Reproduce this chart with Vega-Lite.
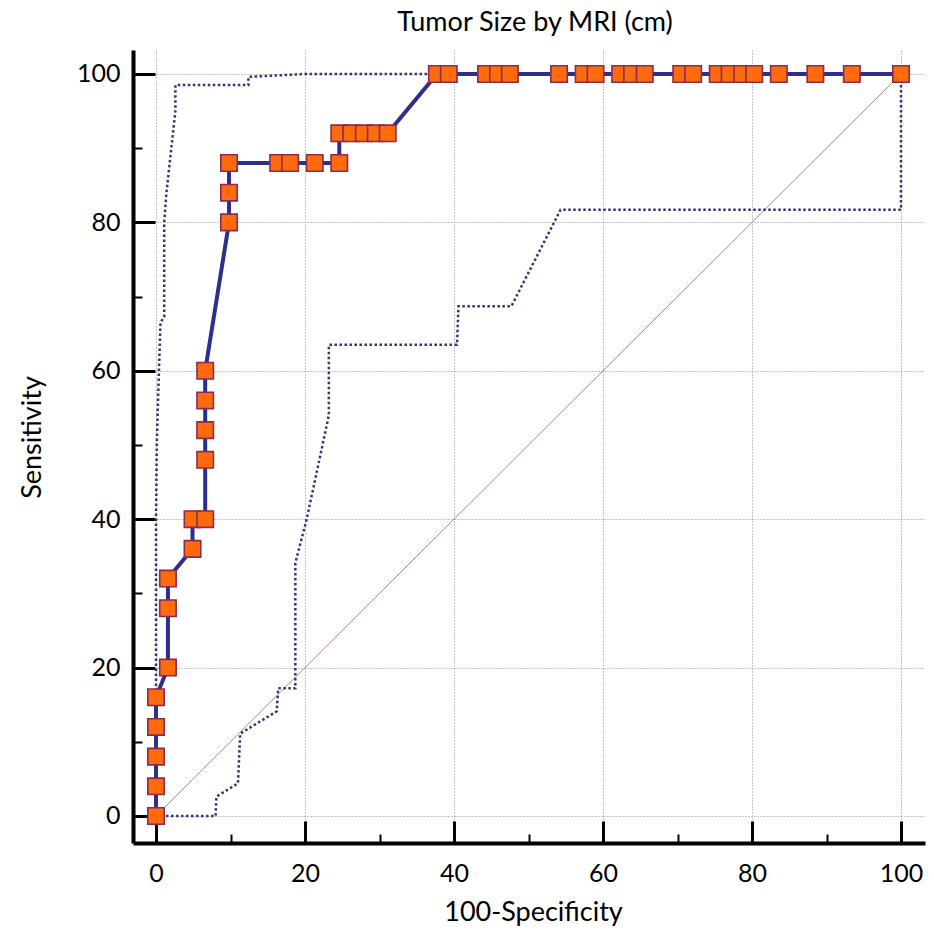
{
  "$schema": "https://vega.github.io/schema/vega-lite/v6.json",
  "autosize": "none",
  "width": 792,
  "height": 793,
  "padding": {"left": 133, "top": 50, "right": 9, "bottom": 90},
  "background": "white",
  "config": {
    "view": {"stroke": null},
    "font": "Lato",
    "title": {"font": "Lato", "fontSize": 27, "fontWeight": "normal", "color": "black", "offset": 13}
  },
  "title": {"text": "Tumor Size by MRI (cm)", "dx": 6},
  "datasets": {
    "roc": [
      {"x": 0, "y": 0}, {"x": 0, "y": 4}, {"x": 0, "y": 8}, {"x": 0, "y": 12}, {"x": 0, "y": 16},
      {"x": 1.6, "y": 20}, {"x": 1.6, "y": 28}, {"x": 1.6, "y": 32}, {"x": 4.9, "y": 36}, {"x": 4.9, "y": 40},
      {"x": 6.6, "y": 40}, {"x": 6.6, "y": 48}, {"x": 6.6, "y": 52}, {"x": 6.6, "y": 56}, {"x": 6.6, "y": 60},
      {"x": 9.8, "y": 80}, {"x": 9.8, "y": 84}, {"x": 9.8, "y": 88}, {"x": 16.4, "y": 88}, {"x": 18.0, "y": 88},
      {"x": 21.3, "y": 88}, {"x": 24.6, "y": 88}, {"x": 24.6, "y": 92}, {"x": 26.2, "y": 92}, {"x": 27.9, "y": 92},
      {"x": 29.5, "y": 92}, {"x": 31.1, "y": 92}, {"x": 37.7, "y": 100}, {"x": 39.3, "y": 100}, {"x": 44.3, "y": 100},
      {"x": 45.9, "y": 100}, {"x": 47.5, "y": 100}, {"x": 54.1, "y": 100}, {"x": 57.4, "y": 100}, {"x": 59.0, "y": 100},
      {"x": 62.3, "y": 100}, {"x": 63.9, "y": 100}, {"x": 65.6, "y": 100}, {"x": 70.5, "y": 100}, {"x": 72.1, "y": 100},
      {"x": 75.4, "y": 100}, {"x": 77.0, "y": 100}, {"x": 78.7, "y": 100}, {"x": 80.3, "y": 100}, {"x": 83.6, "y": 100},
      {"x": 88.5, "y": 100}, {"x": 93.4, "y": 100}, {"x": 100, "y": 100}
    ],
    "upper": [
      {"x": 0, "y": 0}, {"x": 0, "y": 40}, {"x": 0.1, "y": 50}, {"x": 0.3, "y": 57}, {"x": 0.6, "y": 66.5},
      {"x": 1.1, "y": 67.3}, {"x": 1.1, "y": 80}, {"x": 1.4, "y": 84}, {"x": 2.6, "y": 95}, {"x": 2.6, "y": 98.5},
      {"x": 12.4, "y": 98.5}, {"x": 12.4, "y": 99.6}, {"x": 20, "y": 100}, {"x": 38, "y": 100}
    ],
    "lower": [
      {"x": 0, "y": 0}, {"x": 8.0, "y": 0}, {"x": 8.1, "y": 2.6}, {"x": 11.0, "y": 4.4}, {"x": 11.3, "y": 11.1},
      {"x": 16.2, "y": 14.1}, {"x": 16.4, "y": 17.2}, {"x": 18.7, "y": 17.2}, {"x": 18.7, "y": 34.1}, {"x": 20.2, "y": 39.9},
      {"x": 23.2, "y": 54.0}, {"x": 23.2, "y": 63.5}, {"x": 40.4, "y": 63.5}, {"x": 40.6, "y": 68.7}, {"x": 47.7, "y": 68.7},
      {"x": 54.3, "y": 81.7}, {"x": 100, "y": 81.7}, {"x": 100, "y": 100}
    ],
    "diag": [{"x": 0, "y": 0}, {"x": 100, "y": 100}]
  },
  "layer": [
    {
      "data": {"name": "diag"},
      "mark": {"type": "line", "color": "#b08478", "strokeWidth": 1, "clip": true},
      "encoding": {
        "x": {
          "field": "x", "type": "quantitative",
          "scale": {"domain": [-3.09, 103.22], "nice": false, "zero": false},
          "axis": {
            "title": "100-Specificity",
            "values": [0,5,10,15,20,25,30,35,40,45,50,55,60,65,70,75,80,85,90,95,100],
            "labelExpr": "datum.value % 20 === 0 ? datum.label : ''",
            "labelFont": "Lato", "labelFontSize": 25, "labelColor": "black", "labelPadding": 40,
            "labelFlush": false, "labelOverlap": false,
            "titleFont": "Lato", "titleFontSize": 27, "titleFontWeight": "normal", "titleColor": "black",
            "titleX": 400, "titleY": 69, "titleBaseline": "middle", "titleAnchor": null,
            "domainColor": "black", "domainWidth": 4,
            "tickColor": "black",
            "tickSize": {"condition": {"test": "datum.value % 20 === 0", "value": -22}, "value": -9},
            "tickWidth": {"condition": {"test": "datum.value % 20 === 0", "value": 3}, "value": 2},
            "grid": true,
            "gridColor": "#8a8a8a", "gridDash": [1, 2], "gridWidth": 1,
            "gridOpacity": {"condition": {"test": "datum.value % 20 === 0", "value": 1}, "value": 0}
          }
        },
        "y": {
          "field": "y", "type": "quantitative",
          "scale": {"domain": [-3.64, 103.23], "nice": false, "zero": false},
          "axis": {
            "title": "Sensitivity",
            "values": [0,5,10,15,20,25,30,35,40,45,50,55,60,65,70,75,80,85,90,95,100],
            "labelExpr": "datum.value % 20 === 0 ? datum.label : ''",
            "labelFont": "Lato", "labelFontSize": 25, "labelColor": "black", "labelPadding": 35,
            "labelFlush": false, "labelOverlap": false,
            "titleFont": "Lato", "titleFontSize": 27, "titleFontWeight": "normal", "titleColor": "black",
            "titleX": -101, "titleY": 387, "titleBaseline": "middle", "titleAngle": -90, "titleAnchor": null,
            "domainColor": "black", "domainWidth": 4,
            "tickColor": "black",
            "tickSize": {"condition": {"test": "datum.value % 20 === 0", "value": -22}, "value": -9},
            "tickWidth": {"condition": {"test": "datum.value % 20 === 0", "value": 3}, "value": 2},
            "grid": true,
            "gridColor": "#8a8a8a", "gridDash": [1, 2], "gridWidth": 1,
            "gridOpacity": {"condition": {"test": "datum.value % 20 === 0", "value": 1}, "value": 0}
          }
        },
        "order": {"value": null}
      }
    },
    {
      "data": {"name": "upper"},
      "mark": {"type": "line", "color": "#33337f", "strokeWidth": 2.5, "strokeDash": [2.5, 2.5]},
      "encoding": {
        "x": {"field": "x", "type": "quantitative"},
        "y": {"field": "y", "type": "quantitative"},
        "order": {"value": null}
      }
    },
    {
      "data": {"name": "lower"},
      "mark": {"type": "line", "color": "#33337f", "strokeWidth": 2.5, "strokeDash": [2.5, 2.5]},
      "encoding": {
        "x": {"field": "x", "type": "quantitative"},
        "y": {"field": "y", "type": "quantitative"},
        "order": {"value": null}
      }
    },
    {
      "data": {"name": "roc"},
      "mark": {"type": "line", "color": "#2e2e8f", "strokeWidth": 4},
      "encoding": {
        "x": {"field": "x", "type": "quantitative"},
        "y": {"field": "y", "type": "quantitative"},
        "order": {"value": null}
      }
    },
    {
      "data": {"name": "roc"},
      "mark": {"type": "point", "shape": "square", "filled": true, "size": 270, "fill": "#ff6a0d", "stroke": "#8b2a55", "strokeWidth": 1.6, "opacity": 1, "fillOpacity": 1, "strokeOpacity": 1},
      "encoding": {
        "x": {"field": "x", "type": "quantitative"},
        "y": {"field": "y", "type": "quantitative"}
      }
    }
  ]
}
